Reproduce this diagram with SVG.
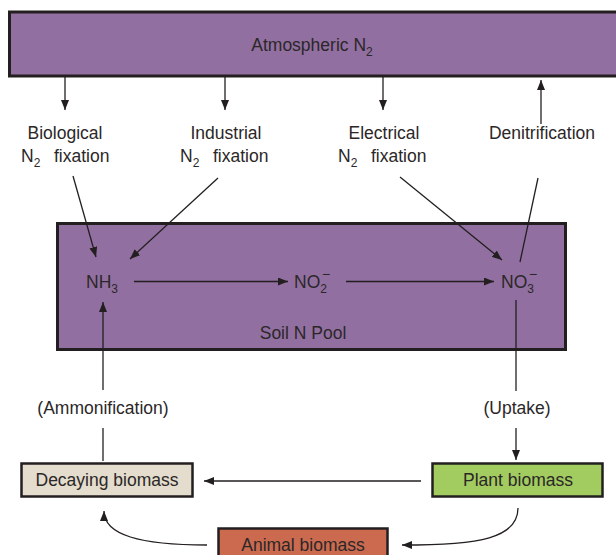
<svg xmlns="http://www.w3.org/2000/svg" width="616" height="555" viewBox="0 0 616 555">
  <defs>
    <marker id="arrow" viewBox="0 0 10 8" refX="10" refY="4" markerWidth="10" markerHeight="8" markerUnits="userSpaceOnUse" orient="auto">
      <path d="M0,0 L10,4 L0,8 Z" fill="#231f20"/>
    </marker>
    <style>
      text { font-family: "Liberation Sans", Arial, sans-serif; font-size: 17.5px; fill: #2b2728; }
      .mid { text-anchor: middle; }
      .sub { font-size: 12px; }
      .minus { font-size: 14px; }
      .pool { fill: #926fa1; stroke: #231f20; stroke-width: 3; }
      .box { stroke: #231f20; stroke-width: 2.5; }
      .link { fill: none; stroke: #231f20; stroke-width: 1.3; }
    </style>
  </defs>

  <!-- atmosphere reservoir -->
  <g id="atmosphere">
    <rect class="pool" x="9.5" y="12" width="612" height="64"/>
    <text x="312" y="51" class="mid">Atmospheric N<tspan class="sub" dy="5">2</tspan></text>
  </g>

  <!-- process labels -->
  <g id="biological">
    <text x="65" y="139" class="mid">Biological</text>
    <text x="21" y="162">N<tspan class="sub" dy="5">2</tspan><tspan dy="-5" x="54">fixation</tspan></text>
  </g>
  <g id="industrial">
    <text x="226" y="139" class="mid">Industrial</text>
    <text x="180" y="162">N<tspan class="sub" dy="5">2</tspan><tspan dy="-5" x="213">fixation</tspan></text>
  </g>
  <g id="electrical">
    <text x="384" y="139" class="mid">Electrical</text>
    <text x="338" y="162">N<tspan class="sub" dy="5">2</tspan><tspan dy="-5" x="371">fixation</tspan></text>
  </g>
  <g id="denitrification">
    <text x="542" y="139" class="mid">Denitrification</text>
  </g>

  <!-- soil pool with its nitrogen species -->
  <g id="soil-pool">
    <rect class="pool" x="57.5" y="223.5" width="508" height="126"/>
    <text x="303" y="339" class="mid">Soil N Pool</text>
  </g>
  <g id="nh3">
    <text x="86" y="288">NH<tspan class="sub" dy="5">3</tspan></text>
  </g>
  <g id="no2">
    <text x="294" y="288">NO<tspan class="sub" dy="5">2</tspan><tspan class="minus" x="322" dy="-14">−</tspan></text>
  </g>
  <g id="no3">
    <text x="501" y="288">NO<tspan class="sub" dy="5">3</tspan><tspan class="minus" x="529" dy="-14">−</tspan></text>
  </g>

  <!-- process labels for soil exchange -->
  <g id="ammonification">
    <text x="103" y="414" class="mid">(Ammonification)</text>
  </g>
  <g id="uptake">
    <text x="517" y="414" class="mid">(Uptake)</text>
  </g>

  <!-- biomass compartments -->
  <g id="decaying-biomass">
    <rect class="box" x="21.5" y="463.5" width="171" height="33" fill="#e4dccc"/>
    <text x="107" y="486" class="mid">Decaying biomass</text>
  </g>
  <g id="plant-biomass">
    <rect class="box" x="432.5" y="463.5" width="170" height="33" fill="#a2cc5f"/>
    <text x="518" y="486" class="mid">Plant biomass</text>
  </g>
  <g id="animal-biomass">
    <rect class="box" x="218.5" y="528.5" width="169" height="40" fill="#cc6a4f"/>
    <text x="303" y="551" class="mid">Animal biomass</text>
  </g>

  <!-- flows -->
  <g id="connectors">
    <line class="link" x1="65" y1="77" x2="65" y2="110" marker-end="url(#arrow)"/>
    <line class="link" x1="225" y1="77" x2="225" y2="110" marker-end="url(#arrow)"/>
    <line class="link" x1="383" y1="77" x2="383" y2="110" marker-end="url(#arrow)"/>
    <line class="link" x1="541" y1="124" x2="541" y2="80" marker-end="url(#arrow)"/>

    <line class="link" x1="73" y1="176" x2="96" y2="257" marker-end="url(#arrow)"/>
    <line class="link" x1="218" y1="178" x2="130" y2="259" marker-end="url(#arrow)"/>
    <line class="link" x1="400" y1="177" x2="502" y2="260" marker-end="url(#arrow)"/>
    <line class="link" x1="538" y1="178" x2="520" y2="262"/>

    <line class="link" x1="134" y1="281.5" x2="288" y2="281.5" marker-end="url(#arrow)"/>
    <line class="link" x1="346" y1="281.5" x2="494" y2="281.5" marker-end="url(#arrow)"/>

    <line class="link" x1="103" y1="390" x2="103" y2="302" marker-end="url(#arrow)"/>
    <line class="link" x1="103" y1="428" x2="103" y2="461"/>
    <line class="link" x1="516" y1="300" x2="516" y2="391"/>
    <line class="link" x1="516" y1="428" x2="516" y2="460" marker-end="url(#arrow)"/>

    <line class="link" x1="421" y1="481" x2="204" y2="481" marker-end="url(#arrow)"/>
    <path class="link" d="M518,508 C518,538 480,545 402,545" marker-end="url(#arrow)"/>
    <path class="link" d="M207,545 C140,545 104,535 104,511" marker-end="url(#arrow)"/>
  </g>
</svg>
